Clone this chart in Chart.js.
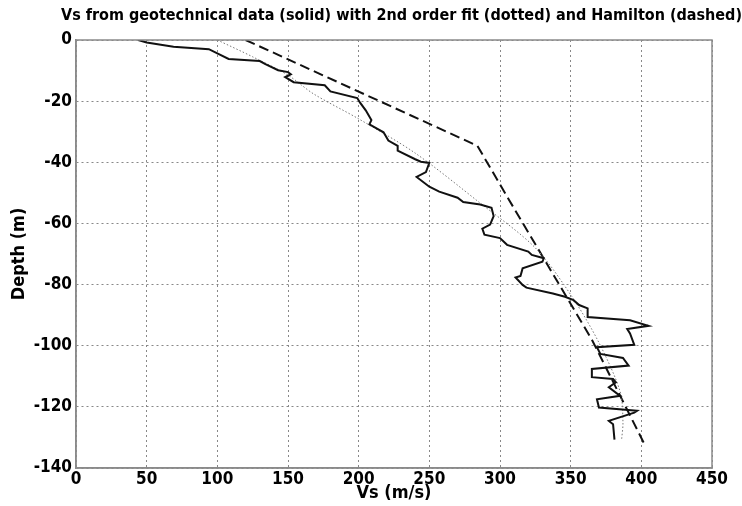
<!DOCTYPE html>
<html>
<head>
<meta charset="utf-8">
<script src="https://cdn.jsdelivr.net/npm/chart.js@4.4.1/dist/chart.umd.min.js"></script>
<style>
  html, body { margin: 0; padding: 0; background: #fff; }
  #wrap { width: 742px; height: 506px; }
</style>
</head>
<body>
<div id="wrap"><canvas id="vsChart" width="742" height="506"></canvas></div>
<script>
// Vs profile from geotechnical data (solid)
const solidVs = [44, 50, 69, 94, 100, 108, 130, 134, 143, 150, 152, 148, 154, 176, 180, 199, 201, 205, 209, 207.6,
  217.6, 221, 227.6, 227.6, 240, 244, 250, 247.6, 241, 250, 257, 270, 274, 286, 294, 295.5, 293, 287.5, 289, 300,
  305, 320, 322.5, 331, 330, 316, 314.5, 311, 316, 318.7, 337.4, 346, 352, 356, 362, 362, 392, 405, 390, 392,
  395, 368.6, 371, 387, 391, 365, 365, 380, 382, 377, 385, 368.6, 370, 397, 395, 377, 380, 381];
const solidDepth = [0, -0.8, -2.2, -3, -4.4, -6.2, -6.9, -7.9, -9.9, -10.5, -11.2, -12.1, -13.8, -14.8, -16.8, -19, -20.5, -23, -26.2, -27.6,
  -30.2, -32.9, -34.6, -36.2, -39, -39.8, -40.2, -43.2, -44.8, -48, -49.6, -51.6, -53, -53.8, -54.9, -57.6, -60.4, -61.7, -63.7, -64.8,
  -67, -69.2, -70.3, -71.4, -72.5, -74.7, -77.2, -77.7, -80.1, -81, -82.9, -84, -85.1, -86.7, -87.8, -90.6, -91.7, -93.5, -94.5, -96,
  -99.7, -100.5, -102.7, -104, -106.5, -107.6, -110.3, -110.9, -112, -113.6, -116.4, -117.5, -120.2, -121.3, -121.9, -124.6, -125.7, -130.7];

// 2nd order fit (dotted)
const fitVs = [100, 125, 150, 168, 200, 240, 285, 325, 351, 370, 385, 387, 386];
const fitDepth = [0, -5.5, -11.5, -17.6, -25.8, -37, -53, -68, -84, -99, -115, -125, -131];

// Hamilton (dashed)
const hamVs = [120, 284, 306, 331, 365, 402];
const hamDepth = [0, -34.6, -52, -71.5, -98, -132];

const xTicks = [0, 50, 100, 150, 200, 250, 300, 350, 400, 450];
const yTicks = [0, -20, -40, -60, -80, -100, -120, -140];

const pts = (xs, ys) => xs.map((v, i) => ({ x: v, y: ys[i] }));

const fontFam = '"Liberation Sans Narrow", "DejaVu Sans Condensed", "Liberation Sans", Arial, sans-serif';

// frame around the plot area (top and right edges)
const boxPlugin = {
  id: 'plotBox',
  afterDraw(chart) {
    const a = chart.chartArea, ctx = chart.ctx;
    ctx.save();
    ctx.strokeStyle = '#8a8a8a';
    ctx.lineWidth = 1.5;
    ctx.strokeRect(a.left, a.top, a.right - a.left, a.bottom - a.top);
    ctx.restore();
  }
};

new Chart(document.getElementById('vsChart'), {
  type: 'scatter',
  data: {
    datasets: [
      {
        label: 'Geotechnical data',
        data: pts(solidVs, solidDepth),
        showLine: true,
        borderColor: '#111',
        borderWidth: 2,
        pointRadius: 0,
        tension: 0
      },
      {
        label: '2nd order fit',
        data: pts(fitVs, fitDepth),
        showLine: true,
        borderColor: '#777',
        borderWidth: 1,
        borderDash: [1.5, 2],
        pointRadius: 0,
        tension: 0.3
      },
      {
        label: 'Hamilton',
        data: pts(hamVs, hamDepth),
        showLine: true,
        borderColor: '#111',
        borderWidth: 2,
        borderDash: [10, 5],
        pointRadius: 0,
        tension: 0
      }
    ]
  },
  options: {
    responsive: false,
    animation: false,
    layout: { padding: 0 },
    plugins: {
      legend: { display: false },
      tooltip: { enabled: false },
      title: {
        display: true,
        text: 'Vs from geotechnical data (solid) with 2nd order fit (dotted) and Hamilton (dashed)',
        color: '#000',
        align: 'end',
        font: { family: fontFam, size: 16, weight: 'bold', lineHeight: 1.2 },
        padding: { top: 6, bottom: 14.8 }
      }
    },
    scales: {
      x: {
        type: 'linear',
        min: 0,
        max: 450,
        afterBuildTicks: s => { s.ticks = xTicks.map(v => ({ value: v })); },
        afterFit: s => { s.height = 38; },
        grid: { color: '#888', lineWidth: 1, drawTicks: false },
        border: { display: true, color: '#8a8a8a', width: 1.5, dash: [2, 3] },
        ticks: { color: '#000', padding: 1, font: { family: fontFam, size: 17, weight: 'bold' } },
        title: { display: true, text: 'Vs (m/s)', color: '#000', padding: { top: 0, bottom: 2 },
                 font: { family: fontFam, size: 18, weight: 'bold' } }
      },
      y: {
        type: 'linear',
        min: -140,
        max: 0,
        afterBuildTicks: s => { s.ticks = yTicks.map(v => ({ value: v })); },
        afterFit: s => { s.width = 76; },
        grid: { color: '#888', lineWidth: 1, drawTicks: false },
        border: { display: true, color: '#8a8a8a', width: 1.5, dash: [2, 3] },
        ticks: { color: '#000', padding: 4, font: { family: fontFam, size: 17, weight: 'bold' } },
        title: { display: true, text: 'Depth (m)', color: '#000', padding: { top: 9, bottom: 0 },
                 font: { family: fontFam, size: 18, weight: 'bold' } }
      },
      yPad: {
        type: 'linear',
        position: 'right',
        display: true,
        grid: { display: false },
        ticks: { display: false },
        border: { display: false },
        afterFit: s => { s.width = 30; }
      }
    }
  },
  plugins: [boxPlugin]
});
</script>
</body>
</html>
